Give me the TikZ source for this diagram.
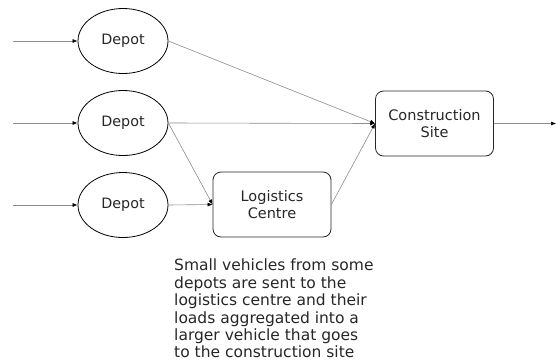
\documentclass[tikz,border=0pt]{standalone}
\usepackage{fontspec}
\setmainfont{DejaVu Sans}
\usetikzlibrary{shapes.geometric,arrows.meta}
\begin{document}
\begin{tikzpicture}[x=1pt,y=-1pt,
  depotnode/.style={ellipse,draw=black,line width=0.8pt,minimum width=90pt,minimum height=65pt,inner sep=0pt,text=black!85,font=\fontsize{14.3}{17}\selectfont},
  boxnode/.style={rectangle,rounded corners=8pt,draw=black!85,line width=0.8pt,minimum width=118pt,minimum height=65pt,inner sep=0pt,align=center,text=black!85,font=\fontsize{14.5}{17.5}\selectfont},
  conn/.style={draw=black!45,line width=0.6pt,-{Latex[length=5pt,width=4pt,black]}}]
\useasboundingbox (0,0) rectangle (556,362);
\node[depotnode] (d1) at (123,41) {Depot};
\node[depotnode] (d2) at (123,123) {Depot};
\node[depotnode] (d3) at (123,205) {Depot};
\node[boxnode] (cs) at (434.5,123.5) {Construction\\Site};
\node[boxnode] (lc) at (272,204.5) {Logistics\\Centre};
\coordinate (i1) at (13,41);
\coordinate (i2) at (13,123);
\coordinate (i3) at (13,205);
\coordinate (o) at (556,123.5);
\draw[conn] (i1) -- (d1.west);
\draw[conn] (i2) -- (d2.west);
\draw[conn] (i3) -- (d3.west);
\draw[conn] (d1.east) -- (cs.west);
\draw[conn] (d2.east) -- (cs.west);
\draw[conn] (d2.east) -- (lc.west);
\draw[conn] (d3.east) -- (lc.west);
\draw[conn] (lc.east) -- (cs.west);
\draw[conn] (cs.east) -- (o);
\node[anchor=north west,align=left,inner sep=0pt,text=black!85,font=\fontsize{15.5}{17.4}\selectfont] (cap) at (174,259) {Small vehicles from some\\depots are sent to the\\logistics centre and their\\loads aggregated into a\\larger vehicle that goes\\to the construction site};
\end{tikzpicture}
\end{document}
